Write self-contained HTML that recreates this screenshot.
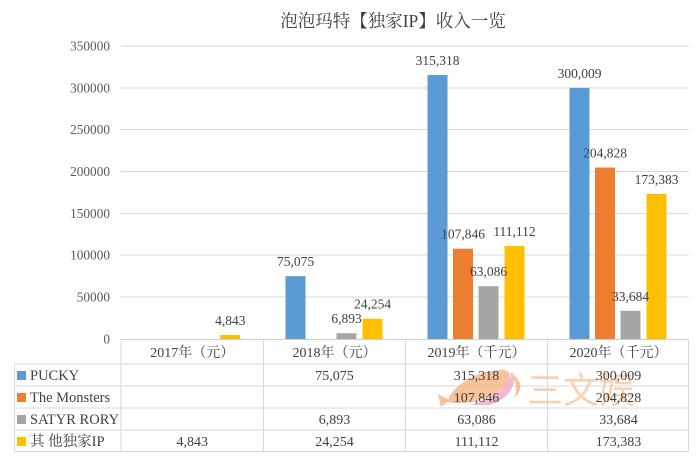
<!DOCTYPE html>
<html><head><meta charset="utf-8"><style>
html,body{margin:0;padding:0;background:#fff;}
svg{display:block;}
text{font-family:"Liberation Serif","Noto Serif CJK SC",serif;}
</style></head><body>
<svg width="700" height="458" viewBox="0 0 700 458" xmlns="http://www.w3.org/2000/svg">
<rect width="700" height="458" fill="#fff"/>
<!-- title -->
<text x="393" y="27" font-size="17.5" fill="#3f3f3f" text-anchor="middle">泡泡玛特【独家IP】收入一览</text>
<!-- gridlines -->
<g stroke="#d9d9d9" stroke-width="1">
<line x1="121" x2="689" y1="46" y2="46"/>
<line x1="121" x2="689" y1="88" y2="88"/>
<line x1="121" x2="689" y1="129.5" y2="129.5"/>
<line x1="121" x2="689" y1="171.5" y2="171.5"/>
<line x1="121" x2="689" y1="213.5" y2="213.5"/>
<line x1="121" x2="689" y1="255" y2="255"/>
<line x1="121" x2="689" y1="297" y2="297"/>
</g>
<!-- y labels -->
<g font-size="13.3" fill="#595959" text-anchor="end">
<text x="110" y="50.5">350000</text>
<text x="110" y="92.5">300000</text>
<text x="110" y="134">250000</text>
<text x="110" y="176">200000</text>
<text x="110" y="218">150000</text>
<text x="110" y="259.5">100000</text>
<text x="110" y="301.5">50000</text>
<text x="110" y="343.5">0</text>
</g>
<!-- bars -->
<g>
<rect x="220.25" y="334.95" width="20" height="4.05" fill="#FFC000"/>
<rect x="285.5" y="276.15" width="20" height="62.85" fill="#5B9BD5"/>
<rect x="336.5" y="333.23" width="20" height="5.77" fill="#A5A5A5"/>
<rect x="362.5" y="318.7" width="20" height="20.3" fill="#FFC000"/>
<rect x="427.5" y="75.03" width="20" height="263.97" fill="#5B9BD5"/>
<rect x="453" y="248.72" width="20" height="90.28" fill="#ED7D31"/>
<rect x="478.5" y="286.19" width="20" height="52.81" fill="#A5A5A5"/>
<rect x="504.5" y="245.98" width="20" height="93.02" fill="#FFC000"/>
<rect x="569.5" y="87.85" width="20" height="251.15" fill="#5B9BD5"/>
<rect x="595" y="167.53" width="20" height="171.47" fill="#ED7D31"/>
<rect x="620.5" y="310.8" width="20" height="28.2" fill="#A5A5A5"/>
<rect x="646.5" y="193.85" width="20" height="145.15" fill="#FFC000"/>
</g>
<!-- bar labels -->
<g font-size="13.5" fill="#404040" text-anchor="middle">
<text x="230.25" y="325">4,843</text>
<text x="295.5" y="266">75,075</text>
<text x="346.5" y="323">6,893</text>
<text x="372.5" y="308.7">24,254</text>
<text x="437.5" y="65">315,318</text>
<text x="463" y="238.7">107,846</text>
<text x="488.5" y="276.2">63,086</text>
<text x="514.5" y="236">111,112</text>
<text x="579.5" y="77.8">300,009</text>
<text x="605" y="157.5">204,828</text>
<text x="630.5" y="300.8">33,684</text>
<text x="656.5" y="183.8">173,383</text>
</g>
<!-- table borders -->
<g stroke="#d9d9d9" stroke-width="1" fill="none">
<line x1="121" x2="689" y1="339.5" y2="339.5" stroke="#cfcfcf"/>
<line x1="14" x2="689" y1="364" y2="364"/>
<line x1="14" x2="689" y1="386" y2="386"/>
<line x1="14" x2="689" y1="408" y2="408"/>
<line x1="14" x2="689" y1="430" y2="430"/>
<line x1="14" x2="689" y1="451.5" y2="451.5"/>
<line x1="14.5" x2="14.5" y1="364" y2="451.5"/>
<line x1="121" x2="121" y1="339.5" y2="451.5"/>
<line x1="263.5" x2="263.5" y1="339.5" y2="451.5"/>
<line x1="405.5" x2="405.5" y1="339.5" y2="451.5"/>
<line x1="547.5" x2="547.5" y1="339.5" y2="451.5"/>
<line x1="688.5" x2="688.5" y1="339.5" y2="451.5"/>
</g>
<!-- watermark -->
<g opacity="0.75">
<path d="M447 402 C 452 388, 470 372, 500 370 C 512 369, 512 378, 505 386 C 492 399, 468 406, 447 402 Z" fill="#f6b07a"/>
<path d="M470 405 C 492 400, 508 388, 512 372 C 518 384, 510 398, 490 405 Z" fill="#f2a0c2"/>
<path d="M509 372 C 522 378, 524 390, 514 398 C 518 388, 516 380, 509 372 Z" fill="#f6b07a"/>
<path d="M438 394 L 450 400 L 441 407 Z" fill="#f6b07a"/>
<text x="527" y="403" font-size="36" fill="#f7c49a" style="font-family:'Noto Sans CJK SC',sans-serif;">三文娱</text>
</g>
<!-- header -->
<g font-size="14" fill="#404040" text-anchor="middle">
<text x="192.25" y="357">2017年（元）</text>
<text x="334.5" y="357">2018年（元）</text>
<text x="476.5" y="357">2019年（千元）</text>
<text x="618.5" y="357">2020年（千元）</text>
</g>
<!-- row labels -->
<rect x="17" y="371" width="9" height="9" fill="#5B9BD5"/>
<rect x="17" y="393" width="9" height="9" fill="#ED7D31"/>
<rect x="17" y="415" width="9" height="9" fill="#A5A5A5"/>
<rect x="17" y="437" width="9" height="9" fill="#FFC000"/>
<g font-size="14.5" fill="#404040">
<text x="30" y="380">PUCKY</text>
<text x="30" y="402">The Monsters</text>
<text x="30" y="424">SATYR RORY</text>
<text x="30" y="446">其 他独家IP</text>
</g>
<!-- values -->
<g font-size="14" fill="#404040" text-anchor="middle">
<text x="334.5" y="380">75,075</text>
<text x="476.5" y="380">315,318</text>
<text x="618.5" y="380">300,009</text>
<text x="476.5" y="402">107,846</text>
<text x="618.5" y="402">204,828</text>
<text x="334.5" y="424">6,893</text>
<text x="476.5" y="424">63,086</text>
<text x="618.5" y="424">33,684</text>
<text x="192.25" y="446">4,843</text>
<text x="334.5" y="446">24,254</text>
<text x="476.5" y="446">111,112</text>
<text x="618.5" y="446">173,383</text>
</g>
</svg>
</body></html>
